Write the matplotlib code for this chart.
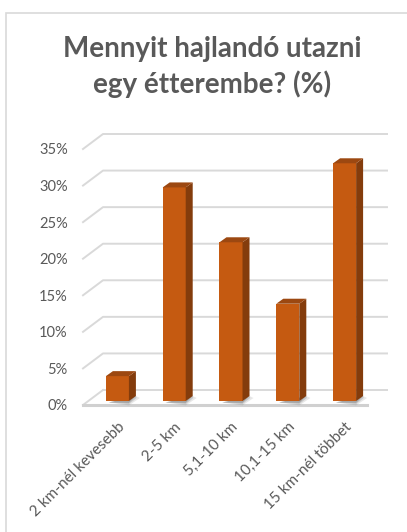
import numpy as np
import matplotlib.pyplot as plt
from matplotlib.patches import Polygon, Rectangle

categories = ['2 km-nél kevesebb', '2-5 km', '5,1-10 km', '10,1-15 km', '15 km-nél többet']
values = [3.4, 29.2, 21.7, 13.3, 32.5]
yticks = [0, 5, 10, 15, 20, 25, 30, 35]
title = 'Mennyit hajlandó utazni\negy étterembe? (%)'

plt.rcParams['font.family'] = ['Lato', 'DejaVu Sans']
text_col = '#595959'
grid_col = '#d9d9d9'
front_col = '#c55a11'
side_col = '#843c0c'
top_col = '#9c4811'

W, H = 407, 532
fig = plt.figure(figsize=(W / 100, H / 100), dpi=100)

# front plane of the box (pixels from top-left)
left, right, bottom, top = 83, 367, 405, 149
ax = fig.add_axes([left / W, 1 - bottom / H, (right - left) / W, (bottom - top) / H])
ax.set_xlim(-0.5, 4.5)
ax.set_ylim(0, 35)
ax.set_frame_on(False)

pxx = (right - left) / 5.0
pxy = (bottom - top) / 35.0
# back wall offset, bar position inside the box, bar depth
wall_dx, wall_dy = 20 / pxx, 15 / pxy
pos_dx, pos_dy = 6 / pxx, 4 / pxy
dep_dx, dep_dy = 7 / pxx, 5 / pxy

# gridlines on back wall with the diagonal to the front
for v in yticks[1:]:
    ax.plot([-0.5, -0.5 + wall_dx, 4.5 + wall_dx], [v, v + wall_dy, v + wall_dy],
            color=grid_col, lw=1.4, clip_on=False, zorder=1)

# floor
ax.add_patch(Polygon([(-0.5, 0), (4.5, 0), (4.5 + wall_dx, wall_dy), (-0.5 + wall_dx, wall_dy)],
                     closed=True, fc='white', ec='none', clip_on=False, zorder=1))
ax.plot([-0.5 + wall_dx, 4.5 + wall_dx], [wall_dy, wall_dy], color=grid_col, lw=1.4,
        clip_on=False, zorder=1)
ax.plot([-0.5, -0.5 + wall_dx], [0, wall_dy], color=grid_col, lw=1.4, clip_on=False, zorder=1)
ax.plot([-0.5, 4.5], [0, 0], color='#d0d0d0', lw=2.2, clip_on=False, zorder=1)

w = 0.405
x = np.arange(len(categories))
for xi, v in zip(x, values):
    x0 = xi - w / 2 + pos_dx
    x1 = xi + w / 2 + pos_dx
    y0 = pos_dy
    y1 = pos_dy + v
    # soft shadow to the lower right
    for k, a in zip([1.0, 0.7, 0.45], [0.12, 0.18, 0.25]):
        ax.add_patch(Polygon([(x0 + 0.05, y0 - 0.2), (x1, y0 - 0.6 * k),
                              (x1 + (dep_dx + 4 / pxx) * k, y0 + dep_dy * 0.6),
                              (x1 + dep_dx, y0 + dep_dy)],
                             closed=True, fc='#404040', ec='none', alpha=a,
                             clip_on=False, zorder=2))
    ax.add_patch(Rectangle((x0, y0), w, v, fc=front_col, ec='none', clip_on=False, zorder=3))
    ax.add_patch(Polygon([(x1, y0), (x1 + dep_dx, y0 + dep_dy), (x1 + dep_dx, y1 + dep_dy), (x1, y1)],
                         closed=True, fc=side_col, ec='none', clip_on=False, zorder=3))
    ax.add_patch(Polygon([(x0, y1), (x1, y1), (x1 + dep_dx, y1 + dep_dy), (x0 + dep_dx, y1 + dep_dy)],
                         closed=True, fc=top_col, ec='none', clip_on=False, zorder=3))
    ax.text(xi + pos_dx, -15 / pxy, categories[xi], rotation=45, ha='right', va='top',
            rotation_mode='anchor', fontsize=11, color=text_col)

ax.set_xticks([])
ax.set_yticks(yticks, [f'{v}%' for v in yticks])
ax.tick_params(axis='y', length=0, pad=11, labelsize=10.5, labelcolor=text_col)

fig.text(212 / W, 1 - 67 / H, title, ha='center', va='center', fontsize=20,
         fontweight='bold', color=text_col, linespacing=1.4)

# chart area border (runs off the right and bottom edges)
fig.patches.append(Rectangle((6 / W, -0.1), 1.2, (H - 13) / H + 0.1, transform=fig.transFigure,
                             fill=False, ec='#d9d9d9', lw=1.2))

fig.savefig('out.png', dpi=100)
